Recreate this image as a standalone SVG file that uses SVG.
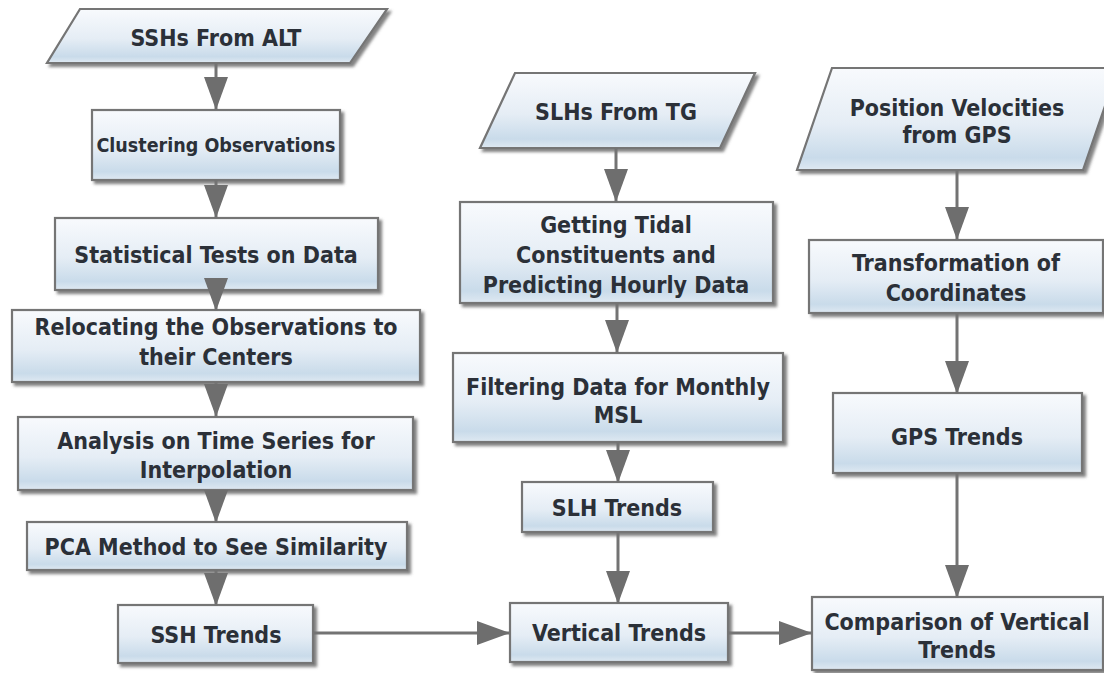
<svg xmlns="http://www.w3.org/2000/svg" width="1104" height="673" viewBox="0 0 1104 673">
  <defs>
    <linearGradient id="boxFill" x1="0" y1="0" x2="0" y2="1">
      <stop offset="0" stop-color="#f8fafd"/>
      <stop offset="0.55" stop-color="#e5edf5"/>
      <stop offset="0.88" stop-color="#c9dbea"/>
      <stop offset="1" stop-color="#dfe9f2"/>
    </linearGradient>
    <filter id="shadow" x="-10%" y="-10%" width="125%" height="135%">
      <feDropShadow dx="3" dy="3" stdDeviation="1.6" flood-color="#5a5a5a" flood-opacity="0.75"/>
    </filter>
    <marker id="ah" markerWidth="34" markerHeight="24" refX="33" refY="12" orient="auto" markerUnits="userSpaceOnUse">
      <path d="M0,0 L33,12 L0,24 Z" fill="#6e6e6e"/>
    </marker>
    <style>
      .box { fill: url(#boxFill); stroke: #747474; stroke-width: 2.2; filter: url(#shadow); }
      .lbl { font-family: "DejaVu Sans Condensed", "DejaVu Sans", "Liberation Sans", sans-serif; font-stretch: condensed; font-weight: bold; font-size: 23px; fill: #2b3038; text-anchor: middle; }
      .sm { font-size: 19.5px; }
      .conn { stroke: #737373; stroke-width: 3; fill: none; marker-end: url(#ah); }
    </style>
  </defs>

  <rect width="1104" height="673" fill="#ffffff"/>

  <!-- altimetry branch -->
  <g id="ssh-from-alt">
    <polygon class="box" points="80,9 387,9 350,63 47,63"/>
    <text class="lbl" x="216" y="46">SSHs From ALT</text>
  </g>
  <g id="clustering">
    <rect class="box" x="92" y="110" width="248" height="70"/>
    <text class="lbl sm" x="216" y="152">Clustering Observations</text>
  </g>
  <g id="statistical-tests">
    <rect class="box" x="55" y="218" width="323" height="72"/>
    <text class="lbl" x="216" y="263">Statistical Tests on Data</text>
  </g>
  <g id="relocating">
    <rect class="box" x="12" y="310" width="408" height="72"/>
    <text class="lbl" x="216" y="335">Relocating the Observations to</text>
    <text class="lbl" x="216" y="365">their Centers</text>
  </g>
  <g id="time-series">
    <rect class="box" x="18" y="417" width="395" height="73"/>
    <text class="lbl" x="216" y="449">Analysis on Time Series for</text>
    <text class="lbl" x="216" y="478">Interpolation</text>
  </g>
  <g id="pca">
    <rect class="box" x="27" y="522" width="380" height="48"/>
    <text class="lbl" x="216" y="555">PCA Method to See Similarity</text>
  </g>
  <g id="ssh-trends">
    <rect class="box" x="118" y="605" width="195" height="58"/>
    <text class="lbl" x="216" y="643">SSH Trends</text>
  </g>

  <!-- tide gauge branch -->
  <g id="slh-from-tg">
    <polygon class="box" points="515,73 755,73 720,148 480,148"/>
    <text class="lbl" x="616" y="120">SLHs From TG</text>
  </g>
  <g id="tidal-constituents">
    <rect class="box" x="460" y="202" width="313" height="101"/>
    <text class="lbl" x="616" y="233">Getting Tidal</text>
    <text class="lbl" x="616" y="263">Constituents and</text>
    <text class="lbl" x="616" y="293">Predicting Hourly Data</text>
  </g>
  <g id="filtering">
    <rect class="box" x="453" y="353" width="330" height="89"/>
    <text class="lbl" x="618" y="395">Filtering Data for Monthly</text>
    <text class="lbl" x="618" y="423">MSL</text>
  </g>
  <g id="slh-trends">
    <rect class="box" x="522" y="482" width="191" height="50"/>
    <text class="lbl" x="617" y="516">SLH Trends</text>
  </g>
  <g id="vertical-trends">
    <rect class="box" x="510" y="603" width="218" height="59"/>
    <text class="lbl" x="619" y="641">Vertical Trends</text>
  </g>

  <!-- GPS branch -->
  <g id="gps-velocities">
    <polygon class="box" points="832,68 1118,68 1083,170 797,170"/>
    <text class="lbl" x="957" y="116">Position Velocities</text>
    <text class="lbl" x="957" y="143">from GPS</text>
  </g>
  <g id="transformation">
    <rect class="box" x="809" y="240" width="294" height="73"/>
    <text class="lbl" x="956" y="271">Transformation of</text>
    <text class="lbl" x="956" y="301">Coordinates</text>
  </g>
  <g id="gps-trends">
    <rect class="box" x="833" y="393" width="249" height="80"/>
    <text class="lbl" x="957" y="445">GPS Trends</text>
  </g>
  <g id="comparison">
    <rect class="box" x="812" y="597" width="291" height="73"/>
    <text class="lbl" x="957" y="630">Comparison of Vertical</text>
    <text class="lbl" x="957" y="658">Trends</text>
  </g>

  <!-- connectors -->
  <g id="connectors">
    <line class="conn" x1="216" y1="63" x2="216" y2="110"/>
    <line class="conn" x1="216" y1="180" x2="216" y2="218"/>
    <line class="conn" x1="216" y1="278" x2="216" y2="311"/>
    <line class="conn" x1="216" y1="382" x2="216" y2="417"/>
    <line class="conn" x1="216" y1="490" x2="216" y2="523"/>
    <line class="conn" x1="216" y1="570" x2="216" y2="606"/>
    <line class="conn" x1="313" y1="633" x2="510" y2="633"/>
    <line class="conn" x1="616" y1="148" x2="616" y2="202"/>
    <line class="conn" x1="617" y1="303" x2="617" y2="353"/>
    <line class="conn" x1="618" y1="442" x2="618" y2="483"/>
    <line class="conn" x1="618" y1="532" x2="618" y2="604"/>
    <line class="conn" x1="728" y1="633" x2="812" y2="633"/>
    <line class="conn" x1="957" y1="170" x2="957" y2="240"/>
    <line class="conn" x1="957" y1="313" x2="957" y2="394"/>
    <line class="conn" x1="957" y1="473" x2="957" y2="598"/>
  </g>
</svg>
